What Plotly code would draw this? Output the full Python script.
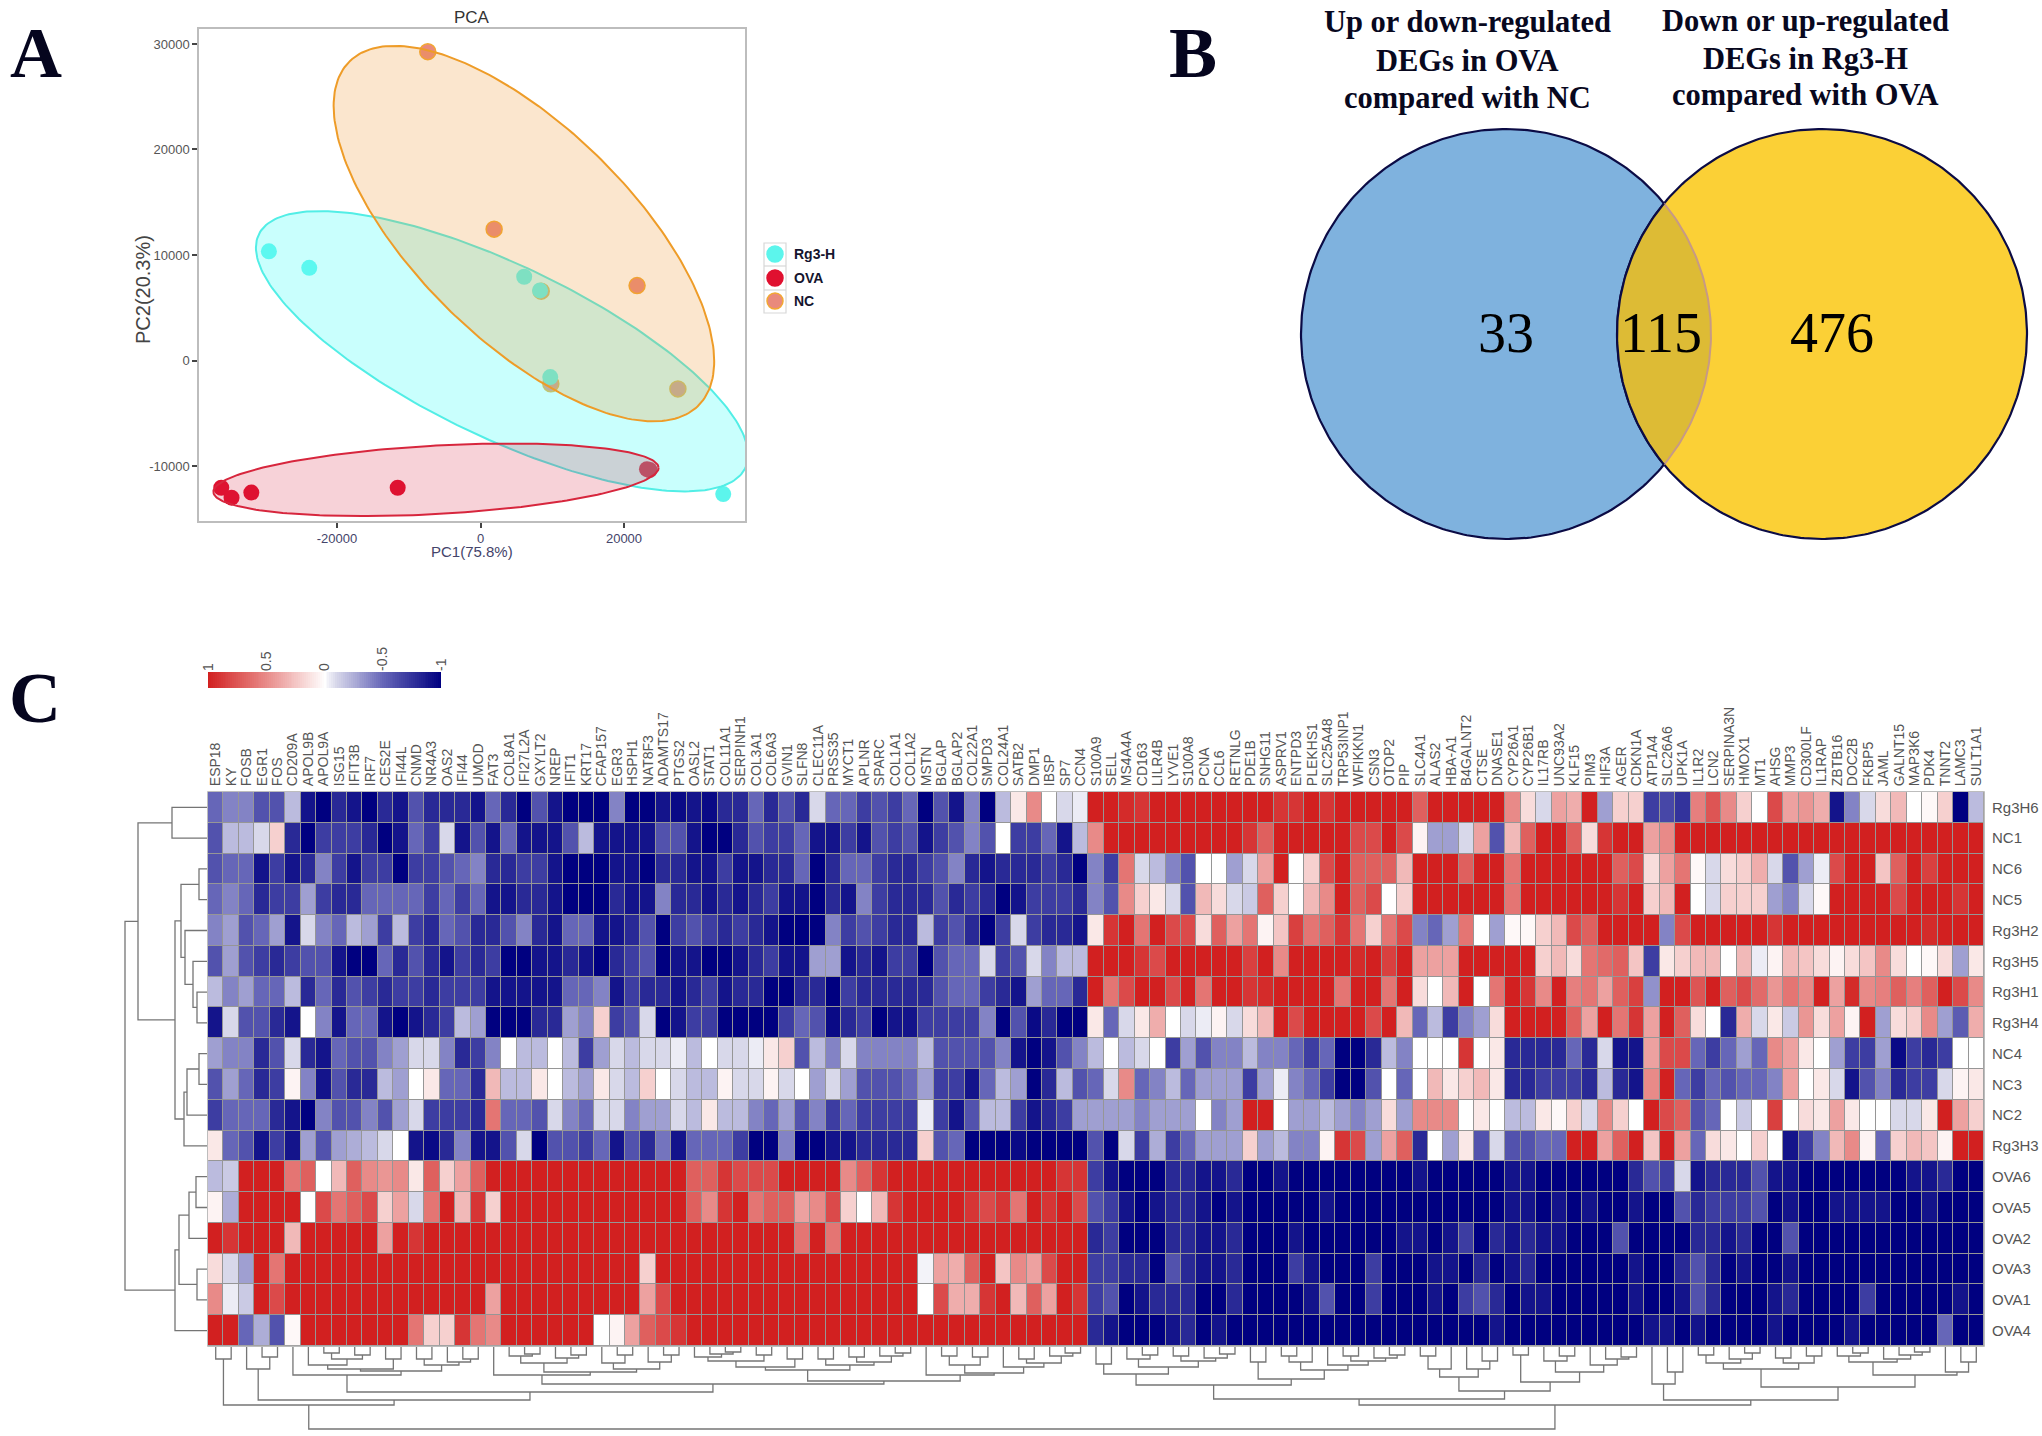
import numpy as np
import plotly.graph_objects as go

W, H = 2042, 1436
SANS = "Liberation Sans"
SERIF = "Liberation Serif"

# ---------- Panel A data ----------
pca_groups = ["Rg3-H", "OVA", "NC"]
rg3_pc1 = [-29490, -23870, 6090, 8300, 9720, 33830]
rg3_pc2 = [10350, 8780, 7940, 6640, -1570, -12660]
ova_pc1 = [-36130, -34700, -31940, -11540, 23560, 23200]
ova_pc2 = [-12060, -13000, -12520, -12060, -10380, -10300]
nc_pc1 = [-7350, 1900, 21820, 8460, 9800, 27510]
nc_pc2 = [29270, 12450, 7100, 6570, -2200, -2690]
# ellipse: centre x, centre y, half x-extent, half y-extent, correlation
rg3_ellipse = [3000, 875, 34300, 13285, -0.74]
ova_ellipse = [-6205, -11310, 31025, 3440, 0.33]
nc_ellipse = [6050, 12030, 26520, 17800, -0.68]
pca_xticks = [-20000, 0, 20000]
pca_yticks = [-10000, 0, 10000, 20000, 30000]

# ---------- Panel B data ----------
venn_counts = ["33", "115", "476"]
venn_left_title = ["Up or down-regulated", "DEGs in OVA", "compared with NC"]
venn_right_title = ["Down or up-regulated", "DEGs in Rg3-H", "compared with OVA"]

# ---------- Panel C data ----------
genes = ["ESP18","KY","FOSB","EGR1","FOS","CD209A","APOL9B","APOL9A","ISG15","IFIT3B",
"IRF7","CES2E","IFI44L","CNMD","NR4A3","OAS2","IFI44","UMOD","FAT3","COL8A1",
"IFI27L2A","GXYLT2","NREP","IFIT1","KRT17","CFAP157","EGR3","HSPH1","NAT8F3","ADAMTS17",
"PTGS2","OASL2","STAT1","COL11A1","SERPINH1","COL3A1","COL6A3","GVIN1","SLFN8","CLEC11A",
"PRSS35","MYCT1","APLNR","SPARC","COL1A1","COL1A2","MSTN","BGLAP","BGLAP2","COL22A1",
"SMPD3","COL24A1","SATB2","DMP1","IBSP","SP7","CCN4","S100A9","SELL","MS4A4A",
"CD163","LILR4B","LYVE1","S100A8","PCNA","CCL6","RETNLG","PDE1B","SNHG11","ASPRV1",
"ENTPD3","PLEKHS1","SLC25A48","TRP53INP1","WFIKKN1","CSN3","OTOP2","PIP","SLC4A1","ALAS2",
"HBA-A1","B4GALNT2","CTSE","DNASE1","CYP26A1","CYP26B1","IL17RB","UNC93A2","KLF15","PIM3",
"HIF3A","AGER","CDKN1A","ATP1A4","SLC26A6","UPK1A","IL1R2","LCN2","SERPINA3N","HMOX1",
"MT1","AHSG","MMP3","CD300LF","IL1RAP","ZBTB16","DOC2B","FKBP5","JAML","GALNT15",
"MAP3K6","PDK4","TNNT2","LAMC3","SULT1A1"]
samples = ["Rg3H6","NC1","NC6","NC5","Rg3H2","Rg3H5","Rg3H1","Rg3H4","NC4","NC3","NC2",
           "Rg3H3","OVA6","OVA5","OVA2","OVA3","OVA1","OVA4"]

# values in tenths of the colour scale
Rg3H6 = [-5,-4,-4,-6,-6,-2,-9,-10,-8,-9,
-10,-8,-9,-6,-8,-8,-8,-9,-5,-8,
-10,-6,-9,-10,-10,-10,-4,-10,-10,-9,
-9.5,-9,-9.5,-8,-8,-5,-8,-6,-8,-1,
-5,-5,-7,-6,-7,-5,-10,-6,-9,-4,
-10,-2,1,5,0,-1,-0.5,10,10,9.5,
9,10,10,10,10,10,10,10,10,9,
9,10,9,10,10,10,10,10,7,10,
10,10,10,10,5,1.5,-1,4,3.5,10,
-3,2,2,-7,-6.5,-7.5,5.5,7.5,5,2,
0,8,4,4.5,3.5,-9,-4,-1,1.5,3,
0,0.3,2,-10,-2]
NC1 = [-6,-2,-2,-1,2,-8,-10,-7,-7,-7,
-8,-10,-9,-5,-7,-1,-9,-6,-9,-5,
-9,-9,-9,-6,-2,-9,-9,-9,-9,-6,
-6,-9,-10,-10,-8,-6,-7,-7,-5,-9,
-9,-7,-9,-6,-7,-6,-9,-7,-6,-4,
-6,0,-7,-7,-5,-9,-2,5,10,10,
10,10,10,10,10,10,10,9,7,10,
10,10,10,10,8,8,10,8,0.5,-3,
-3,-1,4,-6,3,7,10,10,7,1.5,
9,10,10,4,5,10,10,10,10,10,
10,10,10,10,10,10,10,10,10,10,
10,10,10,10,10]
NC6 = [-6,-5,-5,-9,-7,-9,-8,-4,-7,-9,
-7,-7,-10,-7,-7,-6,-5,-4,-8,-8,
-7,-7,-9,-10,-10,-10,-9,-9,-10,-8,
-8,-9,-9,-7,-9,-9,-8,-8,-5,-10,
-8,-5,-5,-7,-8,-8,-7,-6,-4,-8,
-9,-8,-8,-8,-7,-8,-10,-4,-7,6,
-1,-2,-4,-6,0,0,-3,-1,4,10,
0,2,8,10,7,7,7,3,10,10,
10,7,10,10,6,10,10,10,10,10,
10,7,8,1.5,4,6,0.3,-1,1.5,2,
3.5,-1,-6,-3,-0.5,8,10,10,2.5,7,
10,8.5,10,10,10]
NC5 = [-5,-4,-5,-8,-7,-7,-3,-7,-8,-8,
-5,-5,-5,-5,-7,-5,-7,-5,-9,-9,
-8,-8,-9,-10,-10,-10,-8,-9,-9,-4,
-8,-8,-9,-8,-9,-8,-7,-9,-9,-10,
-8,-9,-4,-7,-8,-8,-8,-6,-8,-7,
-8,-10,-9,-7,-7,-7,-8,-4,-6,5,
2,1,-1,-6,3,1.5,-1,-1.5,7,2,
0,3,5,10,7,8,0,2,10,10,
10,10,10,10,6,10,10,10,10,10,
10,9,10,2,3,10,0,-1,2,2,
2,-3,-4,-1,0.3,10,10,10,10,8,
10,10,10,9,10]
Rg3H2 = [-4,-3,-6,-5,-3,-9,-1,-4,-5,-2,
-3,-7,-2,-7,-8,-5,-6,-8,-8,-6,
-4,-8,-9,-5,-5,-9,-9,-8,-6,-10,
-7,-6,-7,-8,-7,-8,-9,-10,-10,-10,
-4,-7,-6,-7,-8,-8,-2,-7,-6,-8,
-10,-7,-1,-7,-8,-8,-9,1,9,10,
6,10,8,8,1.5,7,4,6,0.5,2.5,
8.5,6,7,9,6,2,6,8,-4,-5,
-3,6,0,-3,0.3,0.3,2,3,8,7,
10,10,10,10,-4,8,10,10,10,10,
10,9,10,10,10,10,10,10,10,10,
10,9.5,10,10,10]
Rg3H5 = [-6,-3,-6,-7,-8,-7,-6,-6,-9,-10,
-10,-5,-8,-6,-8,-9,-7,-8,-7,-10,
-10,-9,-9,-8,-9,-10,-8,-7,-6,-10,
-9,-9,-10,-10,-9,-8,-7,-9,-9,-3,
-3,-9,-8,-9,-7,-7,-10,-6,-5,-5,
-1,-7,-6,-1,-4,-2,-2,10,10,10,
9,8,10,10,10,10,10,8.5,10,5,
10,10,10,10,9.5,10,8.5,10,4,4,
4,10,10,10,10,10,2,3,1.5,6,
6.5,7,2.5,-7,1,2,3,3,0,3,
-0.5,0.5,3,2.5,1.5,0.5,1.5,2.5,5,1.5,
0,0.3,1.5,-3,1]
Rg3H1 = [-2,-4,-3,-5,-5,-2,-8,-5,-8,-6,
-7,-8,-7,-7,-8,-7,-7,-7,-9,-9,
-9,-9,-9,-5,-5,-4,-9,-7,-8,-8,
-9,-8,-7,-9,-8,-8,-10,-10,-8,-8,
-10,-7,-8,-8,-8,-8,-8,-6,-5,-5,
-7,-8,-9,-3,-5,-5,-8,10,6,8,
10,10,8,10,6,10,10,9,9.5,10,
10,10,10,6,10,10,6,10,1.5,0,
3,10,0,6,10,9,5,10,5.5,6,
4,7,8.5,-3.5,10,10,7.5,10,7,8,
6.5,4.5,6,5,10,4,9.5,5,5.5,7,
5.5,7,10,8,5]
Rg3H4 = [-9,-1,-6,-6,-8,-9,0,-4,-9,-5,
-5,-9,-10,-9,-8,-7,-2,-3,-10,-10,
-10,-8,-8,-3,-4,2,-7,-6,-1,-10,
-9,-7,-7,-10,-10,-10,-10,-7,-5,-6,
-9.5,-8,-7,-10,-9,-9,-7,-7,-7,-7,
-4,-10,-6,-9.5,-8,-10,-10,1,-5,-1,
1,3.5,0,-1,-0.5,0.5,-1,1.5,3,10,
8,10,10,10,10,8,10,3,-5,-2,
-7,-4,-3,1.5,10,10,10,10,7,4,
10,6,9,4,10,7,1.5,0,-8,3.5,
-1,1,-1.5,4.5,1.5,4,0.5,10,-3,1.5,
2,5,-3,-5.5,3.5]
NC4 = [-3,-4,-4,-8,-6,-1,-8,-9,-5,-6,
-6,-4,-3,-1,-1,-4,-8,-7,-4,0,
-2,-2,0,-2,-7,-3,-1,-2,-1,-1,
-0.5,-2,0,-1,-1,-0.5,1,2,-6,-2,
-4,-1,-4,-4,-4,-4,-2,-6,-6,-6,
-6,-4,-9,-10,-9,-6,-4,-2,0,-2,
-1,0,-7,-3,-6,-4,-4,-2,-4,-4,
-5,-7,-5,-10,-10,-8,-2,-4,0,0,
0,9,0,1,-8,-8,-8,-8,-5,-8,
-1,-9,-9,4,8,8,-5,-7,-5,-3,
-5,5,4,1,0,-3,-7,-7,-3,-9.5,
-7,-8,-7,0,0]
NC3 = [-6,-3,-5,-8,-7,0.5,-4,-9,-6,-8,
-8,-2,-3,0,1,-5,-5,-8,3,-2,
-2,1,0,-2,-3,1,-1,-2,2,0,
-1,-2,-2,0.5,-1,-1,0.5,-1,0,-3,
-1,-3,-6,-6,-6,-5,-3,-7,-7,-9,
-5,-2,-3,-10,-8,-2,-6,-5,-1,5,
-5,-4,-2,-5,-3,-3,-3,-7,-3,-0.5,
-4,-5,-7,-10,-10,-6,0,-5,0,3,
1,2,3,1,-8,-8,-7,-7,-7,-8,
-2,-8,-9,5,10,-5,-7,-5,-6,-5,
-5,-4,4,0,1,-1,-9,-6,-4,-8,
-7,-7,-1,0.5,1]
NC2 = [-7,-5,-5,-5,-8,-9,-10,-4,-6,-6,
-4,-6,-3,-1,-7,-7,-7,-8,6,-5,
-5,-6,-1,-4,-5,-1,-1,-4,-3,-3,
-1,-2,1,-2,-2,-4,-5,-3,-6,-4,
-7,-5,-7,-7,-7,-7,-0.5,-7,-9,-6,
-2,-2,-7,-9,-8,-7,-3,-3,-3,-3,
-4,-3,-3,-3,0,-4,-3,10,10,0,
-3,-3,-2,-3,-4,-3,1.5,-3,5,5,
5,0,1,0,-2,-2,1,0.3,2,-1,
5,2,0,10,8,7,-6,-5,0,-1.5,
0,8.5,0,1.5,1,4,1,0,0,-1,
-1,1,10,4,2]
Rg3H3 = [1,-5,-6,-9,-7,-9,-3,-6,-3,-2.5,
-2,-1,0,-9,-9.5,-8,-4,-9,-9,-6,
-1,-10,-6,-6,-7,-5,-9,-6,-8,-4.5,
-9,-5,-5,-5,-7,-10,-10,-4,-10,-10,
-9,-9,-8,-8,-8,-8,2,-6,-5,-10,
-10,-10,-9.5,-10,-10,-10,-10,-6,-10,-1,
-7,-2.5,-7,-5,-3,-3,-3,2,-3,-2,
-4,-4,0.5,9,8,-3,4,7,-8,0,
-3,1,-6,-1,-6,-6,-5,-5,10,10,
4,7,10,2.5,10,4,-5,1.5,1,0,
2,0,-9,-7,-4,3,5,0.5,-5,2,
3,2.5,0.5,10,10]
OVA6 = [-2,-1.5,10,10,10,6,7,0,3,7,
5,4.5,5,1,7,2,4,7,10,10,
10,10,10,10,10,10,10,10,10,10,
10,7,7,9,8,8,8,10,10,10,
10,5,7,9,10,10,10,10,10,10,
10,10,10,10,10,9,9,-7,-9,-10,
-10,-10,-8,-8,-9,-9,-8,-10,-10,-9,
-10,-10,-10,-10,-10,-10,-10,-10,-9,-10,
-10,-10,-10,-10,-9,-9,-10,-10,-10,-10,
-10,-10,-8,-6,-7,-1,-9,-8,-8,-8,
-6,-9,-9,-10,-10,-10,-10,-10,-10,-10,
-9,-9,-8,-10,-10]
OVA5 = [0.5,-2.5,10,10,10,10,0,8,6,7,
8,2,4,-1,6,10,3,9,2,10,
10,10,10,10,10,10,10,10,10,10,
10,7,5,9,10,6,7,7,4,5,
8,2,0,3,9,10,10,10,10,9,
8,9,6,10,9,10,8,-6,-7,-9,
-10,-9,-8,-8,-9,-10,-9,-10,-10,-10,
-10,-10,-9,-10,-10,-10,-10,-10,-10,-10,
-10,-10,-10,-10,-9,-9,-10,-9,-10,-9,
-10,-10,-9,-10,-10,-6,-8,-7,-7,-7,
-6,-10,-9,-10,-10,-9,-9,-9,-9,-10,
-10,-9,-10,-10,-10]
OVA2 = [10,9,10,10,10,3,10,10,10,10,
10,4,10,9,10,10,10,10,10,10,
10,10,10,10,10,10,10,10,10,10,
10,10,10,10,10,10,10,10,6,10,
6,10,10,10,10,10,10,10,10,10,
10,10,10,10,10,10,10,-8,-7,-10,
-10,-10,-8,-8,-9,-9,-8,-10,-10,-10,
-9,-10,-10,-10,-10,-10,-10,-9,-9,-10,
-9,-7,-10,-8,-9,-8,-9,-9,-10,-10,
-10,-6,-10,-10,-10,-10,-8,-8,-9,-8,
-10,-10,-6,-10,-10,-10,-10,-10,-10,-10,
-10,-10,-10,-10,-10]
OVA3 = [1.5,-1,-3,10,6,10,10,10,10,10,
10,10,10,10,10,10,10,10,10,10,
10,10,10,10,10,10,10,10,2,10,
10,10,10,10,10,10,10,10,10,10,
10,10,10,10,10,10,-0.3,4,3.5,7,
10,2.5,5,4,8,10,10,-7,-7,-8,
-8,-10,-6,-8,-9,-9,-8,-10,-10,-10,
-7,-9,-10,-10,-10,-7,-10,-10,-10,-9,
-9,-10,-8,-10,-9,-8,-10,-10,-10,-10,
-10,-10,-9,-10,-10,-8,-6,-8,-10,-9,
-10,-10,-9,-10,-10,-10,-10,-10,-10,-10,
-10,-10,-10,-10,-10]
OVA1 = [5,-0.5,-1.5,10,8,10,10,10,10,10,
10,10,10,10,10,10,10,10,4,10,
10,10,10,10,10,10,10,10,4,8,
10,10,10,10,10,10,10,10,10,10,
10,10,10,10,10,10,0,8,3.5,3.5,
9,10,3,7,4,10,9,-7,-6,-10,
-9,-8,-8,-8,-10,-10,-8,-10,-10,-10,
-10,-9,-6,-10,-10,-7,-10,-10,-10,-9,
-10,-7,-6,-8,-10,-9,-9,-10,-10,-10,
-10,-10,-9,-10,-10,-9,-6,-8,-10,-10,
-10,-9,-8,-10,-10,-10,-10,-7,-10,-10,
-10,-10,-10,-9,-10]
OVA4 = [10,10,-5,-2.5,-6,0.3,10,10,10,10,
10,10,10,6,2,2,9,6,5,10,
10,10,10,10,10,0,0.5,4,7,8,
9,10,10,10,10,10,10,10,10,10,
10,10,10,10,10,10,10,10,10,10,
10,10,10,10,10,10,10,-8,-9,-10,
-10,-10,-9,-8,-10,-9,-10,-10,-10,-10,
-10,-10,-10,-10,-10,-10,-10,-10,-10,-10,
-10,-10,-10,-9,-10,-10,-10,-10,-10,-10,
-10,-10,-10,-9,-9,-10,-9,-10,-10,-10,
-10,-9,-10,-10,-10,-10,-9,-10,-10,-10,
-10,-10,-5,-10,-10]

heat_rows = [Rg3H6, NC1, NC6, NC5, Rg3H2, Rg3H5, Rg3H1, Rg3H4, NC4, NC3, NC2, Rg3H3,
             OVA6, OVA5, OVA2, OVA3, OVA1, OVA4]
for name, r in zip(samples, heat_rows):
    assert len(r) == len(genes), (name, len(r))
heat_z = [[v / 10 for v in r] for r in heat_rows]

# dendrograms: (height, left, right), leaves are cell indices
c0_1 = (12, 0, 1)
c2_4 = (22, 2, (10, 3, 4))
c6_12 = (22, (18, 6, (12, (6, 7, 8), (8, 9, 10))), (12, 11, 12))
c13_17 = (18, (12, 13, 14), (15, 15, (12, 16, 17)))
L28 = (28, 5, (24, c6_12, c13_17))
c19_24 = (16, (9, 19, (7, 20, 21)), (11, 22, (8, 23, 24)))
c25_30 = (22, (16, 25, (8, 26, 27)), (15, 28, (8, 29, 30)))
G18 = (28, 18, (25, c19_24, c25_30))
c31_38 = (20, (14, (10, 31, (7, 32, (5, 33, 34))), (8, 35, 36)), (12, 37, 38))
c39_45 = (18, (12, 39, 40), (15, (10, 41, 42), (9, 43, (6, 44, 45))))
c47_56 = (26, (18, (9, 47, 48), (10, 49, 50)), (20, 51, (16, (12, 52, 53), (9, 54, (6, 55, 56)))))
blue_tree = (58, c0_1, (53, c2_4, (45, L28, (37, G18, (34, (23, c31_38, c39_45), (28, 46, c47_56))))))
A1 = (27, (17, 57, 58), (20, (12, 59, (8, 60, 61)), (14, (9, 62, 63), (11, 64, (7, 65, 66)))))
A2 = (32, (15, 67, 68), (23, (15, (9, 69, 70), 71), (18, 72, (14, (9, 73, 74), (11, 75, (8, 76, 77))))))
B1 = (30, (22, (9, 78, 79), 80), (22, 81, (14, 82, 83)))
B2 = (35, (8, 84, 85), (25, (14, 86, (9, 87, 88)), (18, 89, (12, 90, (10, 91, 92)))))
D1 = (37, 93, (25, 94, 95))
c96_104 = (22, (16, (8, 96, 97), (12, 98, (6, 99, 100))), (16, (11, 101, 102), (9, 103, 104)))
c105_111 = (15, (9, 105, (6, 106, 107)), (12, 108, (8, 109, (5, 110, 111))))
c112_114 = (25, 112, (15, 113, 114))
red_tree = (58, (52, (38, A1, A2), (44, B1, B2)), (53, D1, (40, c96_104, (28, c105_111, c112_114))))
gene_tree = (82, blue_tree, red_tree)
sample_tree = (82,
    (69, (35, 0, 1),
     (32, (26, (8, 2, 3), (22, 4, (14, 5, (10, 6, 7)))), (23, (20, (8, 8, 9), 10), 11))),
    (32, (28, (18, (11, 12, 13), 14), (10, 15, 16)), 17))

colorbar_ticks = [1, 0.5, 0, -0.5, -1]
colorbar_levels = list(np.linspace(1, -1, 121))

# ---------- Layout geometry (page pixels) ----------
def dom_x(a, b): return [a / W, b / W]
def dom_y(a, b): return [1 - b / H, 1 - a / H]
HM_L, HM_R, HM_T, HM_B = 208, 1984, 792, 1346
COL_W = (HM_R - HM_L) / len(genes)
ROW_H = (HM_B - HM_T) / len(samples)

fig = go.Figure()

# ---------- Panel A ----------
def ellipse(cx, cy, rx, ry, rho):
    t = np.linspace(0, 2 * np.pi, 241)
    return cx + rx * np.cos(t), cy + ry * (rho * np.cos(t) + np.sqrt(1 - rho ** 2) * np.sin(t))

fig.add_trace(go.Scatter(x=nc_pc1, y=nc_pc2, mode="markers", xaxis="x", yaxis="y", showlegend=False,
    marker=dict(size=16, color="#E98A7C", line=dict(color="#F2A832", width=1.5))))
fig.add_trace(go.Scatter(x=ova_pc1, y=ova_pc2, mode="markers", xaxis="x", yaxis="y", showlegend=False,
    marker=dict(size=16, color="#E0102F")))
fig.add_trace(go.Scatter(x=rg3_pc1, y=rg3_pc2, mode="markers", xaxis="x", yaxis="y", showlegend=False,
    marker=dict(size=16, color="#5CF5EC")))
for params, fill, line in [
    (rg3_ellipse, "rgba(90,255,250,0.33)", "#52EEE6"),
    (ova_ellipse, "rgba(215,30,60,0.20)", "#D7263D"),
    (nc_ellipse, "rgba(240,150,50,0.24)", "#EE9C28"),
]:
    ex, ey = ellipse(*params)
    fig.add_trace(go.Scatter(x=ex, y=ey, mode="lines", fill="toself", fillcolor=fill,
                             line=dict(color=line, width=2), xaxis="x", yaxis="y", showlegend=False,
                             hoverinfo="skip"))

# ---------- Panel C ----------
heat_scale = [[0, "#000080"], [0.25, "#6666B8"], [0.45, "#D8D8EA"], [0.5, "#FFFFFF"],
              [0.75, "#E88A88"], [1, "#D22020"]]
fig.add_trace(go.Heatmap(z=heat_z, x=list(range(len(genes))), y=list(range(len(samples))),
                         xaxis="x3", yaxis="y3", zmin=-1, zmax=1, colorscale=heat_scale,
                         showscale=False, xgap=1, ygap=1))
fig.add_trace(go.Heatmap(z=[colorbar_levels], x=colorbar_levels, y=[0], xaxis="x2", yaxis="y2",
                         zmin=-1, zmax=1, colorscale=heat_scale, showscale=False))

def walk(node, pos, out):
    if isinstance(node, int):
        return pos(node), 0
    h, a, b = node
    pa, ha = walk(a, pos, out)
    pb, hb = walk(b, pos, out)
    out.append(((pa, ha), (pa, h), (pb, h), (pb, hb)))
    return (pa + pb) / 2, h

segs = []
walk(gene_tree, lambda i: HM_L + COL_W * (i + 0.5), segs)
dx, dy = [], []
for s in segs:
    for p, h in s:
        dx.append(p); dy.append(HM_B + 1 + h)
    dx.append(None); dy.append(None)
segs = []
walk(sample_tree, lambda i: HM_T + ROW_H * (i + 0.5), segs)
for s in segs:
    for p, h in s:
        dx.append(HM_L - 1 - h); dy.append(p)
    dx.append(None); dy.append(None)
fig.add_trace(go.Scatter(x=dx, y=dy, mode="lines", xaxis="x4", yaxis="y4", showlegend=False,
                         line=dict(color="#757575", width=1.3), hoverinfo="skip"))

# ---------- Panel B (page-pixel overlay) ----------
VL, VR, VY, VRAD = 1506, 1822, 334, 205
th = np.linspace(0, 2 * np.pi, 361)
fig.add_trace(go.Scatter(x=VL + VRAD * np.cos(th), y=VY + VRAD * np.sin(th), mode="lines", fill="toself",
                         fillcolor="#7FB2DE", line=dict(color="#0B0B45", width=2.2),
                         xaxis="x4", yaxis="y4", showlegend=False, hoverinfo="skip"))
fig.add_trace(go.Scatter(x=VR + VRAD * np.cos(th), y=VY + VRAD * np.sin(th), mode="lines", fill="toself",
                         fillcolor="#FBD036", line=dict(color="#0B0B45", width=2.2),
                         xaxis="x4", yaxis="y4", showlegend=False, hoverinfo="skip"))
a = np.arccos((VR - VL) / 2 / VRAD)
ta = np.linspace(-a, a, 80)
tb = np.linspace(np.pi + a, np.pi - a, 80)
lx = np.r_[VL + VRAD * np.cos(ta), VR + VRAD * np.cos(tb)]
ly = np.r_[VY + VRAD * np.sin(ta), VY + VRAD * np.sin(tb)]
fig.add_trace(go.Scatter(x=lx, y=ly, mode="lines", fill="toself", fillcolor="#DDBB35",
                         line=dict(color="rgba(0,0,0,0)", width=0), xaxis="x4", yaxis="y4",
                         showlegend=False, hoverinfo="skip"))
fig.add_trace(go.Scatter(x=VL + VRAD * np.cos(ta), y=VY + VRAD * np.sin(ta), mode="lines",
                         line=dict(color="#C79A85", width=2), xaxis="x4", yaxis="y4",
                         showlegend=False, hoverinfo="skip"))
fig.add_trace(go.Scatter(x=VR + VRAD * np.cos(tb), y=VY + VRAD * np.sin(tb), mode="lines",
                         line=dict(color="#0B0B45", width=2.2), xaxis="x4", yaxis="y4",
                         showlegend=False, hoverinfo="skip"))

# legend keys of panel A
LEG_Y = [254, 278, 301]
LEG_COL = ["#5CF5EC", "#E0102F", "#E98A7C"]
fig.add_trace(go.Scatter(x=[775, 775, 775], y=LEG_Y, mode="markers", xaxis="x4", yaxis="y4", showlegend=False,
                         marker=dict(size=16, color=LEG_COL,
                                     line=dict(color=["#5CF5EC", "#E0102F", "#F2A832"], width=1.5))))

shapes = [
    dict(type="rect", xref="x3 domain", yref="y3 domain", x0=0, x1=1, y0=0, y1=1, layer="below",
         fillcolor="#969696", line=dict(color="#A8A8A8", width=1.5)),
    dict(type="rect", xref="x4", yref="y4", x0=764, x1=786, y0=243, y1=313, layer="below",
         fillcolor="white", line=dict(color="#D8D8D8", width=1.2)),
    dict(type="line", xref="x4", yref="y4", x0=764, x1=786, y0=266, y1=266, layer="below",
         line=dict(color="#D8D8D8", width=1.2)),
    dict(type="line", xref="x4", yref="y4", x0=764, x1=786, y0=290, y1=290, layer="below",
         line=dict(color="#D8D8D8", width=1.2)),
]

def page_text(x, y, text, size, font=SANS, color="#000", bold=False, anchor="center", angle=0):
    t = f"<b>{text}</b>" if bold else text
    return dict(x=x, y=y, xref="x4", yref="y4", text=t, showarrow=False, xanchor=anchor, yanchor="middle",
                textangle=angle, font=dict(family=font, size=size, color=color))

ann = [
    page_text(36, 53, "A", 72, SERIF, "#05051E", bold=True),
    page_text(1193, 53, "B", 72, SERIF, "#05051E", bold=True),
    page_text(35, 698, "C", 72, SERIF, "#05051E", bold=True),
    page_text(472, 17, "PCA", 17, SANS, "#333333"),
    page_text(472, 551, "PC1(75.8%)", 15, SANS, "#44446A"),
    page_text(143, 290, "PC2(20.3%)", 20, SANS, "#444444", angle=-90),
]
for name, y in zip(pca_groups, LEG_Y):
    ann.append(page_text(792, y, name, 14, SANS, "#15152E", bold=True, anchor="left"))
for line, y in zip(venn_left_title, [22, 61, 98]):
    ann.append(page_text(1467, y, line, 30.5, SERIF, "#08081E", bold=True))
for line, y in zip(venn_right_title, [21, 59, 95]):
    ann.append(page_text(1805, y, line, 30.5, SERIF, "#08081E", bold=True))
for txt, x in zip(venn_counts, [1506, 1661, 1832]):
    ann.append(page_text(x, 333, txt, 56, SERIF, "#000000"))

fig.update_layout(
    width=W, height=H, margin=dict(l=0, r=0, t=0, b=0, autoexpand=False), autosize=False,
    paper_bgcolor="white", plot_bgcolor="rgba(0,0,0,0)", showlegend=False,
    shapes=shapes, annotations=ann,
    xaxis=dict(domain=dom_x(199, 745), range=[-39234, 36864], tickmode="array", tickvals=pca_xticks,
               ticktext=[str(v) for v in pca_xticks], showgrid=False, zeroline=False, ticks="outside",
               ticklen=5, tickwidth=1.5, tickcolor="#444", showline=True, mirror=True, linecolor="#BDBDBD",
               linewidth=1.5, tickfont=dict(family=SANS, size=13, color="#44446A"), anchor="y"),
    yaxis=dict(domain=dom_y(29, 521), range=[-15213, 31420], tickmode="array", tickvals=pca_yticks,
               ticktext=[str(v) for v in pca_yticks], showgrid=False, zeroline=False, ticks="outside",
               ticklen=5, tickwidth=1.5, tickcolor="#444", showline=True, mirror=True, linecolor="#BDBDBD",
               linewidth=1.5, tickfont=dict(family=SANS, size=13, color="#555"), anchor="x"),
    xaxis2=dict(domain=dom_x(208, 441), range=[1, -1], side="top", tickmode="array", tickvals=colorbar_ticks,
                ticktext=[str(v) for v in colorbar_ticks], tickangle=-90, ticks="", showgrid=False,
                zeroline=False, tickfont=dict(family=SANS, size=14, color="#555"), anchor="y2"),
    yaxis2=dict(domain=dom_y(672, 688), visible=False, range=[-0.5, 0.5], anchor="x2"),
    xaxis3=dict(domain=dom_x(HM_L, HM_R), range=[-0.5, len(genes) - 0.5], side="top", tickmode="array",
                tickvals=list(range(len(genes))), ticktext=genes, tickangle=-90, ticks="outside", ticklen=2,
                tickcolor="rgba(0,0,0,0)", showgrid=False, zeroline=False,
                tickfont=dict(family=SANS, size=14, color="#555"), anchor="y3"),
    yaxis3=dict(domain=dom_y(HM_T, HM_B), range=[len(samples) - 0.5, -0.5], side="right", tickmode="array",
                tickvals=list(range(len(samples))), ticktext=samples, ticks="outside", ticklen=4,
                tickcolor="rgba(0,0,0,0)", showgrid=False, zeroline=False,
                tickfont=dict(family=SANS, size=15, color="#555"), anchor="x3"),
    xaxis4=dict(domain=[0, 1], range=[0, W], visible=False, anchor="y4"),
    yaxis4=dict(domain=[0, 1], range=[H, 0], visible=False, anchor="x4"),
)

fig.write_html("out.html", config=dict(displayModeBar=False),
               post_script="document.body.style.margin='0';document.body.style.overflow='hidden';")
